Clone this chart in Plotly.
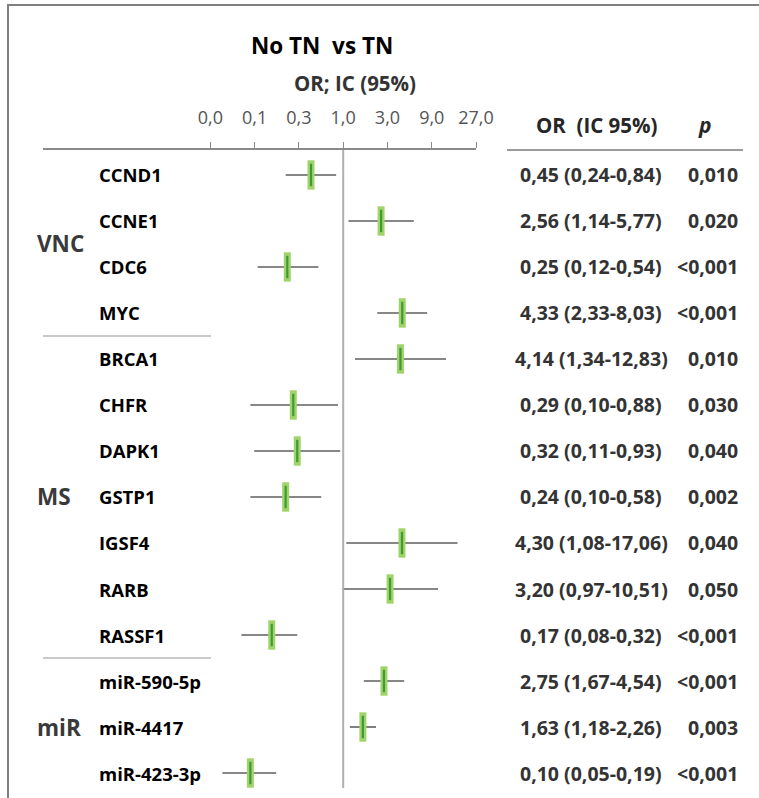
import plotly.graph_objects as go

# Odds ratios (No TN vs TN) with 95% confidence intervals
genes = ["CCND1", "CCNE1", "CDC6", "MYC",
         "BRCA1", "CHFR", "DAPK1", "GSTP1", "IGSF4", "RARB", "RASSF1",
         "miR-590-5p", "miR-4417", "miR-423-3p"]
group_names = ["VNC", "MS", "miR"]
group_sizes = [4, 7, 3]
or_vals = [0.45, 2.56, 0.25, 4.33, 4.14, 0.29, 0.32, 0.24, 4.30, 3.20, 0.17, 2.75, 1.63, 0.10]
ci_lo = [0.24, 1.14, 0.12, 2.33, 1.34, 0.10, 0.11, 0.10, 1.08, 0.97, 0.08, 1.67, 1.18, 0.05]
ci_hi = [0.84, 5.77, 0.54, 8.03, 12.83, 0.88, 0.93, 0.58, 17.06, 10.51, 0.32, 4.54, 2.26, 0.19]
p_text = ["0,010", "0,020", "<0,001", "<0,001", "0,010", "0,030", "0,040",
          "0,002", "0,040", "0,050", "<0,001", "<0,001", "0,003", "<0,001"]
tick_vals = [1 / 27, 1 / 9, 1 / 3, 1, 3, 9, 27]
tick_text = ["0,0", "0,1", "0,3", "1,0", "3,0", "9,0", "27,0"]

W, H = 759, 798
ML, MR, MT, MB = 43, 283, 150, 10
PW, PH = W - ML - MR, H - MT - MB
FONT = "Open Sans"


def px(x):
    """pixel x -> paper x"""
    return (x - ML) / PW


def py(y):
    """pixel y -> paper y"""
    return 1 - (y - MT) / PH


def fmt(v):
    return f"{v:.2f}".replace(".", ",")


def label(x, y, text, size, color, xanchor="center", yref="paper"):
    return dict(x=x, xref="paper", xanchor=xanchor, y=y, yref=yref, yanchor="middle",
                text=text, showarrow=False,
                font=dict(family=FONT, size=size, color=color))


rows = list(range(len(genes)))

fig = go.Figure()

# CI whiskers
fig.add_trace(go.Scatter(
    x=or_vals, y=rows, mode="markers",
    marker=dict(size=1, color="rgba(0,0,0,0)"),
    error_x=dict(type="data", symmetric=False,
                 array=[h - o for h, o in zip(ci_hi, or_vals)],
                 arrayminus=[o - l for o, l in zip(or_vals, ci_lo)],
                 width=0, thickness=1.6, color="#5f5f5f"),
    hoverinfo="skip", showlegend=False))

# point estimates: light green bar with darker core
fig.add_trace(go.Scatter(
    x=or_vals, y=rows, mode="markers",
    marker=dict(symbol="line-ns", size=21, line=dict(width=7, color="#9fd46a")),
    showlegend=False))
fig.add_trace(go.Scatter(
    x=or_vals, y=rows, mode="markers",
    marker=dict(symbol="line-ns", size=16, line=dict(width=2.2, color="#3f9a34")),
    showlegend=False))

shapes = [
    # reference line at OR = 1
    dict(type="line", xref="x", yref="paper", x0=1, x1=1, y0=0, y1=1,
         line=dict(color="#b0b0b0", width=2)),
    # table header rule
    dict(type="line", xref="paper", yref="paper", x0=px(507), x1=px(743), y0=1, y1=1,
         line=dict(color="#7a7a7a", width=1.6)),
    # outer frame
    dict(type="rect", xref="paper", yref="paper", x0=px(8), x1=px(800), y0=py(840), y1=py(5),
         line=dict(color="#7f7f7f", width=2)),
]

annotations = []
start = 0
for name, size in zip(group_names, group_sizes):
    end = start + size
    annotations.append(label(px(35), (start + end - 1) / 2, f"<b>{name}</b>", 22.5,
                             "#3a3a3a", xanchor="left", yref="y"))
    if end < len(genes):
        shapes.append(dict(type="line", xref="paper", yref="y", x0=0, x1=px(211),
                           y0=end - 0.5, y1=end - 0.5,
                           line=dict(color="#b8b8b8", width=1.6)))
    start = end

for i, g in enumerate(genes):
    annotations.append(label(px(97), i, f"<b>{g}</b>", 18.5, "#000000",
                             xanchor="left", yref="y"))
    annotations.append(label(px(591), i,
                             f"<b>{fmt(or_vals[i])} ({fmt(ci_lo[i])}-{fmt(ci_hi[i])})</b>",
                             19.5, "#333333", yref="y"))
    annotations.append(label(px(740), i, f"<b>{p_text[i]}</b>", 19.5, "#333333",
                             xanchor="right", yref="y"))

annotations += [
    label(px(322), py(45), "<b>No TN  vs TN</b>", 22.5, "#000000"),
    label(px(355), py(83), "<b>OR; IC (95%)</b>", 20.5, "#333333"),
    label(px(597), py(125), "<b>OR  (IC 95%)</b>", 20.5, "#262626"),
    label(px(705), py(125), "<b><i>p</i></b>", 21, "#262626"),
]

fig.update_layout(
    width=W, height=H,
    margin=dict(l=ML, r=MR, t=MT, b=MB),
    paper_bgcolor="white", plot_bgcolor="white",
    shapes=shapes, annotations=annotations,
    xaxis=dict(type="log", range=[-3.234, 1.431], side="top",
               tickvals=tick_vals, ticktext=tick_text,
               ticks="outside", ticklen=6, tickwidth=1.2, tickcolor="#8a8a8a",
               ticklabelstandoff=11,
               showline=True, linecolor="#8a8a8a", linewidth=1.6,
               showgrid=False, zeroline=False,
               tickfont=dict(family=FONT, size=18, color="#555555")),
    yaxis=dict(range=[13.326, -0.543], visible=False, showgrid=False, zeroline=False),
)

fig.write_html("out.html")
